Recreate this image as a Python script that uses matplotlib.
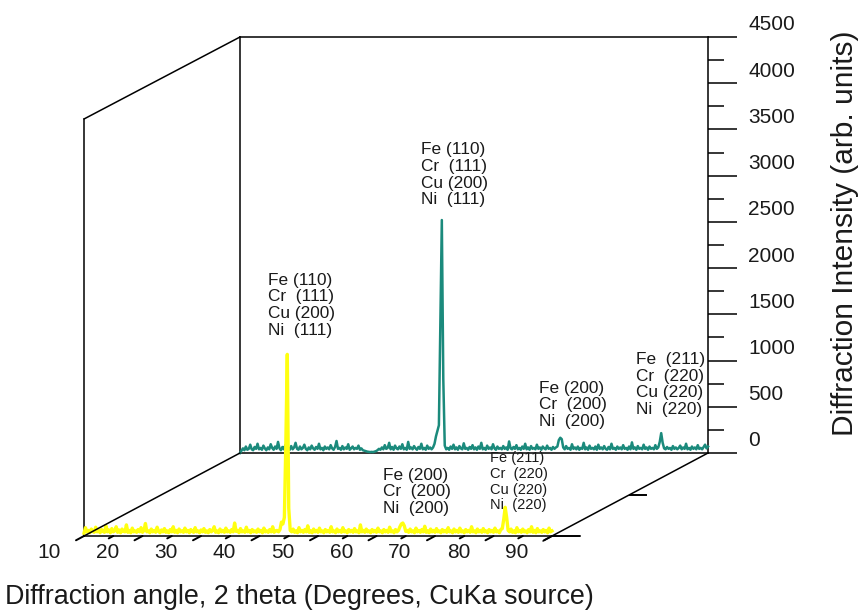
import numpy as np
import matplotlib
matplotlib.use("Agg")
import matplotlib.pyplot as plt
from matplotlib.lines import Line2D
from matplotlib.patches import ConnectionPatch

plt.rcParams['font.family'] = ['Liberation Sans', 'DejaVu Sans']

# 2 theta grid, 0.25 degree steps from 10 to 90
angle = np.arange(10, 90.001, 0.25)

# back trace (teal), one row = 5 degrees
teal = [0, 25, 50, 30, 70, 35, 45, 90, 40, 30, 65, 45, 100, 40, 55, 35, 80, 50, 30, 60,
        40, 95, 55, 35, 70, 45, 120, 50, 30, 65, 40, 85, 45, 55, 35, 75, 40, 60, 110, 45,
        35, 70, 40, 55, 90, 45, 30, 60, 40, 80, 50, 35, 65, 45, 100, 40, 55, 30, 70, 45,
        60, 40, 85, 50, 35, 65, 130, 45, 55, 35, 75, 40, 60, 45, 95, 35, 50, 70, 40, 55,
        45, 80, 35, 50, 30, 25, 20, 15, 12, 10, 12, 10, 15, 20, 30, 45, 35, 60, 40, 85,
        45, 55, 110, 40, 65, 35, 80, 50, 40, 70, 45, 95, 40, 55, 35, 120, 45, 60, 40, 75,
        50, 35, 65, 45, 100, 40, 55, 35, 80, 45, 60, 40, 60, 100, 180, 240, 300, 1400, 2520, 800,
        80, 40, 55, 35, 70, 45, 90, 40, 60, 35, 75, 50, 40, 105, 45, 55, 35, 65, 45, 85,
        40, 60, 35, 70, 45, 110, 40, 55, 35, 80, 45, 60, 40, 95, 50, 35, 70, 45, 55, 40,
        75, 45, 60, 35, 125, 50, 40, 65, 45, 85, 40, 55, 35, 70, 45, 100, 40, 60, 35, 75,
        45, 55, 40, 90, 45, 60, 35, 70, 50, 40, 80, 45, 55, 35, 65, 45, 60, 70, 140, 165,
        150, 60, 40, 75, 45, 55, 35, 95, 45, 60, 40, 70, 35, 55, 45, 110, 40, 60, 35, 80,
        45, 55, 40, 70, 35, 90, 45, 60, 40, 75, 45, 35, 65, 40, 100, 45, 55, 35, 70, 45,
        60, 40, 85, 45, 55, 35, 70, 40, 115, 45, 60, 35, 75, 45, 55, 40, 90, 45, 60, 35,
        70, 45, 55, 40, 85, 45, 60, 120, 215, 110, 50, 40, 65, 45, 55, 35, 75, 45, 60, 40,
        55, 80, 40, 60, 45, 100, 40, 55, 35, 70, 45, 60, 40, 85, 45, 55, 40, 65, 90, 50,
        70]

# front trace (yellow)
yellow = [30, 90, 45, 60, 35, 75, 50, 40, 95, 45, 60, 35, 70, 50, 40, 110, 45, 65, 35, 80,
          45, 55, 100, 40, 65, 35, 75, 50, 45, 120, 40, 60, 35, 85, 45, 55, 40, 70, 45, 90,
          40, 60, 135, 45, 55, 35, 75, 45, 60, 40, 95, 50, 35, 65, 45, 80, 40, 55, 35, 70,
          45, 100, 40, 60, 35, 75, 45, 55, 40, 85, 45, 60, 35, 70, 50, 40, 90, 45, 55, 35,
          65, 45, 80, 40, 55, 35, 70, 45, 60, 100, 40, 55, 35, 75, 45, 60, 40, 85, 45, 55,
          40, 70, 45, 140, 50, 60, 35, 80, 45, 55, 40, 95, 45, 60, 35, 70, 45, 55, 40, 75,
          45, 60, 35, 85, 45, 55, 40, 70, 45, 100, 40, 55, 60, 45, 70, 150, 130, 200, 1000, 1960,
          300, 60, 45, 75, 40, 55, 35, 90, 45, 60, 40, 70, 45, 110, 40, 55, 35, 75, 45, 60,
          40, 85, 45, 55, 35, 70, 45, 60, 40, 100, 45, 55, 35, 75, 45, 60, 40, 90, 45, 55,
          35, 70, 45, 60, 40, 80, 45, 55, 35, 120, 45, 60, 40, 75, 45, 55, 35, 70, 45, 60,
          40, 85, 45, 55, 35, 70, 45, 60, 40, 95, 45, 55, 35, 70, 45, 60, 100, 130, 140, 110,
          50, 60, 40, 75, 45, 55, 35, 85, 45, 60, 40, 70, 45, 105, 40, 55, 35, 75, 45, 60,
          40, 80, 45, 55, 35, 70, 45, 60, 40, 90, 45, 55, 35, 75, 45, 60, 40, 85, 45, 55,
          35, 70, 45, 60, 40, 100, 45, 55, 35, 75, 45, 60, 40, 80, 45, 55, 35, 70, 45, 60,
          40, 85, 45, 55, 35, 70, 80, 180, 310, 200, 60, 45, 75, 40, 55, 35, 90, 45, 60, 40,
          75, 45, 55, 35, 70, 45, 100, 40, 60, 35, 80, 45, 55, 40, 70, 45, 60, 35, 85, 45,
          55]

x_ticks = [10, 20, 30, 40, 50, 60, 70, 80, 90]
y_ticks = [0, 500, 1000, 1500, 2000, 2500, 3000, 3500, 4000, 4500]

# peak labels: (angle, intensity, text)
teal_labels = [(40.9, 3010, "Fe (110)\nCr  (111)\nCu (200)\nNi  (111)"),
               (61.1, 520, "Fe (200)\nCr  (200)\nNi  (200)"),
               (77.7, 740, "Fe  (211)\nCr  (220)\nCu (220)\nNi  (220)")]
yellow_labels = [(41.45, 2490, "Fe (110)\nCr  (111)\nCu (200)\nNi  (111)", 12.4),
                 (61.1, 475, "Fe (200)\nCr  (200)\nNi  (200)", 12.4),
                 (79.4, 585, "Fe (211)\nCr  (220)\nCu (220)\nNi  (220)", 10.5)]

TEAL = '#1b8a7c'
YELLOW = '#ffff10'
TXT = '#1a1a1a'

W, H = 859, 614
fig = plt.figure(figsize=(W / 100, H / 100), dpi=100)

def fx(px):
    return px / W

def fy(py):
    return 1 - py / H

back = fig.add_axes([fx(240), fy(453), 468 / W, 416 / H])
front = fig.add_axes([fx(84), fy(536), 468 / W, 417 / H])

for ax in (back, front):
    ax.set_xlim(10, 90)
    ax.set_ylim(0, 4500)
    ax.set_facecolor('none')
    for s in ax.spines.values():
        s.set_linewidth(1.1)
    ax.set_xticks([])

# back panel
back.plot(angle, teal, color=TEAL, lw=1.8, zorder=3, clip_on=False)
back.yaxis.tick_right()
back.set_yticks(y_ticks)
back.set_yticks(np.arange(250, 4500, 500), minor=True)
back.tick_params(axis='y', which='major', direction='out', length=21, width=1.1,
                 labelright=False, labelleft=False)
back.tick_params(axis='y', which='minor', direction='out', length=11.5, width=1.1)
for v in y_ticks:
    back.annotate(str(v), xy=(1, v), xycoords=('axes fraction', 'data'),
                  xytext=(40, 12), textcoords='offset pixels',
                  ha='left', va='center', fontsize=15, color=TXT)
for a, i, t in teal_labels:
    back.text(a, i, t, ha='left', va='center', fontsize=12.4, color=TXT,
              linespacing=1.15)

# front panel
front.spines['top'].set_visible(False)
front.spines['right'].set_visible(False)
front.set_yticks([])
front.plot(angle, yellow, color=YELLOW, lw=2.4, zorder=3, clip_on=False)
for a, i, t, fs in yellow_labels:
    front.text(a, i, t, ha='left', va='center', fontsize=fs, color=TXT,
               linespacing=1.15)

# slanted x ticks along the depth direction
for t in range(10, 91, 5):
    major = t % 10 == 0
    d = (-8, -4.3) if major else (-4.5, -2.4)
    front.annotate('', xy=(t, 0), xytext=d, textcoords='offset pixels',
                   arrowprops=dict(arrowstyle='-', lw=1.4, color='black',
                                   shrinkA=0, shrinkB=0))
for t in x_ticks:
    front.annotate(str(t), xy=(t, 0), xytext=(-35, -16), textcoords='offset pixels',
                   ha='center', va='center', fontsize=15, color=TXT)

# 3D frame connecting the two panels
for corner in [(0, 1), (0, 0), (1, 0)]:
    fig.add_artist(ConnectionPatch(xyA=corner, coordsA=front.transAxes,
                                   xyB=corner, coordsB=back.transAxes,
                                   color='black', lw=1.1))
# depth ticks on the right diagonal
front.annotate('', xy=(1, 0), xycoords='axes fraction', xytext=(-9, -5),
               textcoords='offset pixels',
               arrowprops=dict(arrowstyle='-', lw=1.1, color='black', shrinkA=0, shrinkB=0))
front.annotate('', xy=(1, 0), xycoords='axes fraction', xytext=(28, 0),
               textcoords='offset pixels',
               arrowprops=dict(arrowstyle='-', lw=1.4, color='black', shrinkA=0, shrinkB=0))
fig.add_artist(Line2D([fx(630), fx(646)], [fy(494.5), fy(494.5)], color='black', lw=1.4))

fig.text(fx(5), fy(597), "Diffraction angle, 2 theta (Degrees, CuKa source)",
         ha='left', va='center', fontsize=19.4, color=TXT)
fig.text(fx(845), fy(233), "Diffraction Intensity (arb. units)", rotation=90,
         ha='center', va='center', fontsize=21.5, color=TXT)

fig.savefig('out.png', dpi=100)
